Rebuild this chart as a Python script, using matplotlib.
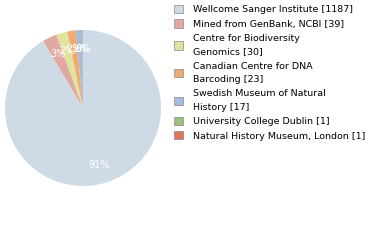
import matplotlib.pyplot as plt
from matplotlib.patches import Patch

labels = ["Wellcome Sanger Institute [1187]", "Mined from GenBank, NCBI [39]",
          "Centre for Biodiversity\nGenomics [30]", "Canadian Centre for DNA\nBarcoding [23]",
          "Swedish Museum of Natural\nHistory [17]", "University College Dublin [1]",
          "Natural History Museum, London [1]"]
counts = [1187, 39, 30, 23, 17, 1, 1]
colors = ["#cedae6", "#e0a9a1", "#dfe39d", "#f1ab72", "#a2bde0", "#9ec27d", "#e27355"]

fig = plt.figure(figsize=(3.8, 2.4), dpi=100)
ax = fig.add_axes([0.0132, 0.225, 0.4105, 0.65])
wedges, texts, autotexts = ax.pie(counts, colors=colors, startangle=90, counterclock=False,
                                  autopct=lambda p: "%d%%" % round(p), pctdistance=0.76,
                                  textprops=dict(color="white", fontsize=7))
ax.set_xlim(-1, 1)
ax.set_ylim(-1, 1)
ax.set_aspect("equal")

handles = [Patch(facecolor=c, edgecolor="#888888", linewidth=0.5) for c in colors]
leg = fig.legend(handles, labels, loc="upper left", bbox_to_anchor=(0.447, 0.995), frameon=False,
                 fontsize=6.8, handlelength=0.95, handleheight=0.95, handletextpad=1.15,
                 labelspacing=0.55, borderaxespad=0)
for t in leg.get_texts():
    t.set_linespacing(1.63)

fig.savefig("out.png", dpi=100)
